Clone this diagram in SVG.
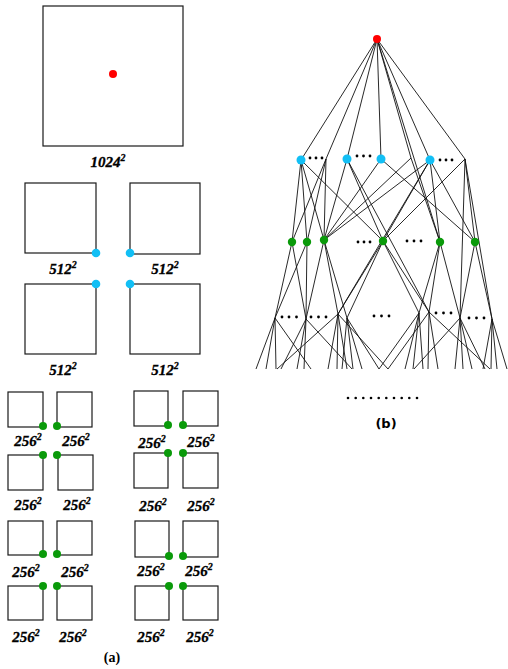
<svg xmlns="http://www.w3.org/2000/svg" width="508" height="669" viewBox="0 0 508 669">
<style>
.sq{fill:none;stroke:#1a1a1a;stroke-width:1.2}
.lb{font-family:"Liberation Serif",serif;font-weight:bold;font-style:italic;font-size:15px;fill:#000;stroke:#000;stroke-width:0.3;text-anchor:middle}
.sup{font-size:10px}
.red{fill:#ff0000}
.blue{fill:#12bff5}
.green{fill:#0a9a0a}
.e{stroke:#111;stroke-width:0.9;fill:none}
.d{fill:#000}
.cap{font-weight:bold;fill:#000;text-anchor:middle}
</style>
<rect width="508" height="669" fill="#fff"/>

<!-- (a) -->
<g id="sq1024">
<rect class="sq" x="43" y="6" width="140" height="140"/>
<circle class="red" cx="113" cy="74" r="4"/>
<text class="lb" x="108" y="167">1024<tspan class="sup" dy="-6">2</tspan></text>
</g>
<g id="sq512">
<rect class="sq" x="25" y="183" width="71" height="70"/>
<rect class="sq" x="130" y="183" width="70" height="71"/>
<rect class="sq" x="25" y="284" width="71" height="70"/>
<rect class="sq" x="130" y="284" width="70" height="70"/>
<circle class="blue" cx="96" cy="253" r="4.3"/>
<circle class="blue" cx="130" cy="253" r="4.3"/>
<circle class="blue" cx="96" cy="284" r="4.3"/>
<circle class="blue" cx="130" cy="284" r="4.3"/>
<text class="lb" x="63" y="274">512<tspan class="sup" dy="-6">2</tspan></text>
<text class="lb" x="165" y="274">512<tspan class="sup" dy="-6">2</tspan></text>
<text class="lb" x="63" y="375">512<tspan class="sup" dy="-6">2</tspan></text>
<text class="lb" x="165" y="375">512<tspan class="sup" dy="-6">2</tspan></text>
</g>
<g id="sq256">
<rect class="sq" x="8" y="392" width="35" height="35"/>
<rect class="sq" x="57" y="392" width="35" height="35"/>
<rect class="sq" x="134" y="391" width="34" height="35"/>
<rect class="sq" x="183" y="391" width="35" height="35"/>
<rect class="sq" x="8" y="455" width="35" height="35"/>
<rect class="sq" x="58" y="455" width="35" height="35"/>
<rect class="sq" x="134" y="453" width="34" height="35"/>
<rect class="sq" x="183" y="453" width="35" height="35"/>
<rect class="sq" x="8" y="521" width="35" height="34"/>
<rect class="sq" x="57" y="521" width="35" height="34"/>
<rect class="sq" x="135" y="521" width="34" height="36"/>
<rect class="sq" x="183" y="521" width="35" height="36"/>
<rect class="sq" x="8" y="586" width="35" height="34"/>
<rect class="sq" x="57" y="586" width="35" height="34"/>
<rect class="sq" x="135" y="586" width="34" height="34"/>
<rect class="sq" x="183" y="586" width="35" height="34"/>
<circle class="green" cx="43" cy="426" r="4"/><circle class="green" cx="57" cy="426" r="4"/>
<circle class="green" cx="168" cy="425" r="4"/><circle class="green" cx="183" cy="425" r="4"/>
<circle class="green" cx="43" cy="455" r="4"/><circle class="green" cx="57" cy="455" r="4"/>
<circle class="green" cx="168" cy="453" r="4"/><circle class="green" cx="183" cy="453" r="4"/>
<circle class="green" cx="43" cy="554" r="4"/><circle class="green" cx="57" cy="554" r="4"/>
<circle class="green" cx="169" cy="556" r="4"/><circle class="green" cx="183" cy="556" r="4"/>
<circle class="green" cx="43" cy="586" r="4"/><circle class="green" cx="57" cy="586" r="4"/>
<circle class="green" cx="169" cy="586" r="4"/><circle class="green" cx="183" cy="586" r="4"/>
<text class="lb" x="28" y="446">256<tspan class="sup" dy="-6">2</tspan></text>
<text class="lb" x="76" y="446">256<tspan class="sup" dy="-6">2</tspan></text>
<text class="lb" x="152" y="448">256<tspan class="sup" dy="-6">2</tspan></text>
<text class="lb" x="201" y="447">256<tspan class="sup" dy="-6">2</tspan></text>
<text class="lb" x="28" y="510">256<tspan class="sup" dy="-6">2</tspan></text>
<text class="lb" x="77" y="510">256<tspan class="sup" dy="-6">2</tspan></text>
<text class="lb" x="153" y="511">256<tspan class="sup" dy="-6">2</tspan></text>
<text class="lb" x="201" y="511">256<tspan class="sup" dy="-6">2</tspan></text>
<text class="lb" x="26" y="577">256<tspan class="sup" dy="-6">2</tspan></text>
<text class="lb" x="75" y="577">256<tspan class="sup" dy="-6">2</tspan></text>
<text class="lb" x="151" y="576">256<tspan class="sup" dy="-6">2</tspan></text>
<text class="lb" x="199" y="576">256<tspan class="sup" dy="-6">2</tspan></text>
<text class="lb" x="26" y="642">256<tspan class="sup" dy="-6">2</tspan></text>
<text class="lb" x="73" y="642">256<tspan class="sup" dy="-6">2</tspan></text>
<text class="lb" x="151" y="642">256<tspan class="sup" dy="-6">2</tspan></text>
<text class="lb" x="200" y="642">256<tspan class="sup" dy="-6">2</tspan></text>
</g>
<text class="cap" x="112" y="662" font-family="Liberation Serif, serif" font-size="14">(a)</text>

<!-- (b) connectors -->
<g id="connectors" class="e">
<path d="M377 39L301 160M377 39L326 159M377 39L347 159M377 39L381 159M377 39L411 158M377 39L440 242M377 39L430 160M377 39L465 159"/>
<path d="M301 160L292 242M301 160L307 242M301 160L324 240M301 160L383 241"/>
<path d="M326 159L292 242M326 159L307 242M326 159L324 240"/>
<path d="M347 159L324 240M347 159L383 241M347 159L429 312"/>
<path d="M381 159L324 240M381 159L475 242"/>
<path d="M411 158L324 240M411 158L440 242"/>
<path d="M430 160L324 240M430 160L383 241M430 160L440 242M430 160L475 242M430 160L338 314"/>
<path d="M465 159L383 241M465 159L475 242M465 159L460 318M465 159L492 319"/>
<path d="M292 242L275 318M292 242L306 319M307 242L275 318M307 242L306 319"/>
<path d="M324 240L306 319M324 240L338 314M324 240L347 318"/>
<path d="M383 241L338 314M383 241L347 318M383 241L419 313M383 241L429 312"/>
<path d="M440 242L419 313M440 242L429 312M440 242L460 318"/>
<path d="M475 242L460 318M475 242L492 319"/>
<path d="M275 318L256 369M275 318L266 369M275 318L276 369M275 318L311 369"/>
<path d="M306 319L281 369M306 319L297 369M306 319L304 369M306 319L352 369"/>
<path d="M338 314L277 369M338 314L328 369M338 314L337 369M338 314L347 369"/>
<path d="M347 318L342 369M347 318L353 369M347 318L362 369M347 318L379 369"/>
<path d="M419 313L379 369M419 313L405 369M419 313L413 369M419 313L423 369"/>
<path d="M429 312L388 369M429 312L428 369M429 312L438 369M429 312L490 369"/>
<path d="M460 318L414 369M460 318L455 369M460 318L463 369M460 318L472 369M460 318L485 369"/>
<path d="M492 319L483 369M492 319L491 369M492 319L497 369M492 319L507 369"/>
<path d="M338 314L388 369"/>
</g>

<!-- (b) nodes -->
<g id="root"><circle class="red" cx="377" cy="39" r="4"/></g>
<g id="l1">
<circle class="blue" cx="301" cy="160" r="4.5"/>
<circle class="blue" cx="347" cy="159" r="4.5"/>
<circle class="blue" cx="381" cy="159" r="4.5"/>
<circle class="blue" cx="430" cy="160" r="4.5"/>
</g>
<g id="l2">
<circle class="green" cx="292" cy="242" r="4.2"/>
<circle class="green" cx="307" cy="242" r="4.2"/>
<circle class="green" cx="324" cy="240" r="4.2"/>
<circle class="green" cx="383" cy="241" r="4.2"/>
<circle class="green" cx="440" cy="242" r="4.2"/>
<circle class="green" cx="475" cy="242" r="4.2"/>
</g>
<g id="ellipses" class="d">
<circle cx="310" cy="158" r="1.4"/><circle cx="316" cy="158" r="1.4"/><circle cx="322" cy="158" r="1.4"/>
<circle cx="357" cy="156" r="1.4"/><circle cx="363.5" cy="156" r="1.4"/><circle cx="370" cy="156" r="1.4"/>
<circle cx="440" cy="160" r="1.4"/><circle cx="446" cy="160" r="1.4"/><circle cx="452" cy="160" r="1.4"/>
<circle cx="358" cy="242" r="1.4"/><circle cx="364" cy="242" r="1.4"/><circle cx="370" cy="242" r="1.4"/>
<circle cx="407" cy="241" r="1.4"/><circle cx="414" cy="241" r="1.4"/><circle cx="421" cy="241" r="1.4"/>
<circle cx="282" cy="317" r="1.4"/><circle cx="289" cy="317" r="1.4"/><circle cx="296.5" cy="317" r="1.4"/>
<circle cx="311" cy="317" r="1.4"/><circle cx="318.5" cy="317" r="1.4"/><circle cx="326" cy="317" r="1.4"/>
<circle cx="374" cy="316" r="1.4"/><circle cx="381.5" cy="316" r="1.4"/><circle cx="389" cy="316" r="1.4"/>
<circle cx="436" cy="313" r="1.4"/><circle cx="443.5" cy="313" r="1.4"/><circle cx="451" cy="313" r="1.4"/>
<circle cx="469" cy="318" r="1.4"/><circle cx="476.5" cy="318" r="1.4"/><circle cx="484" cy="318" r="1.4"/>
<circle cx="348" cy="398" r="1.3"/><circle cx="355.7" cy="398" r="1.3"/><circle cx="363.3" cy="398" r="1.3"/><circle cx="371" cy="398" r="1.3"/><circle cx="378.7" cy="398" r="1.3"/><circle cx="386.3" cy="398" r="1.3"/><circle cx="394" cy="398" r="1.3"/><circle cx="401.7" cy="398" r="1.3"/><circle cx="409.3" cy="398" r="1.3"/><circle cx="417" cy="398" r="1.3"/>
</g>
<text class="cap" x="386" y="428" font-family="DejaVu Sans, sans-serif" font-size="13">(b)</text>
</svg>
